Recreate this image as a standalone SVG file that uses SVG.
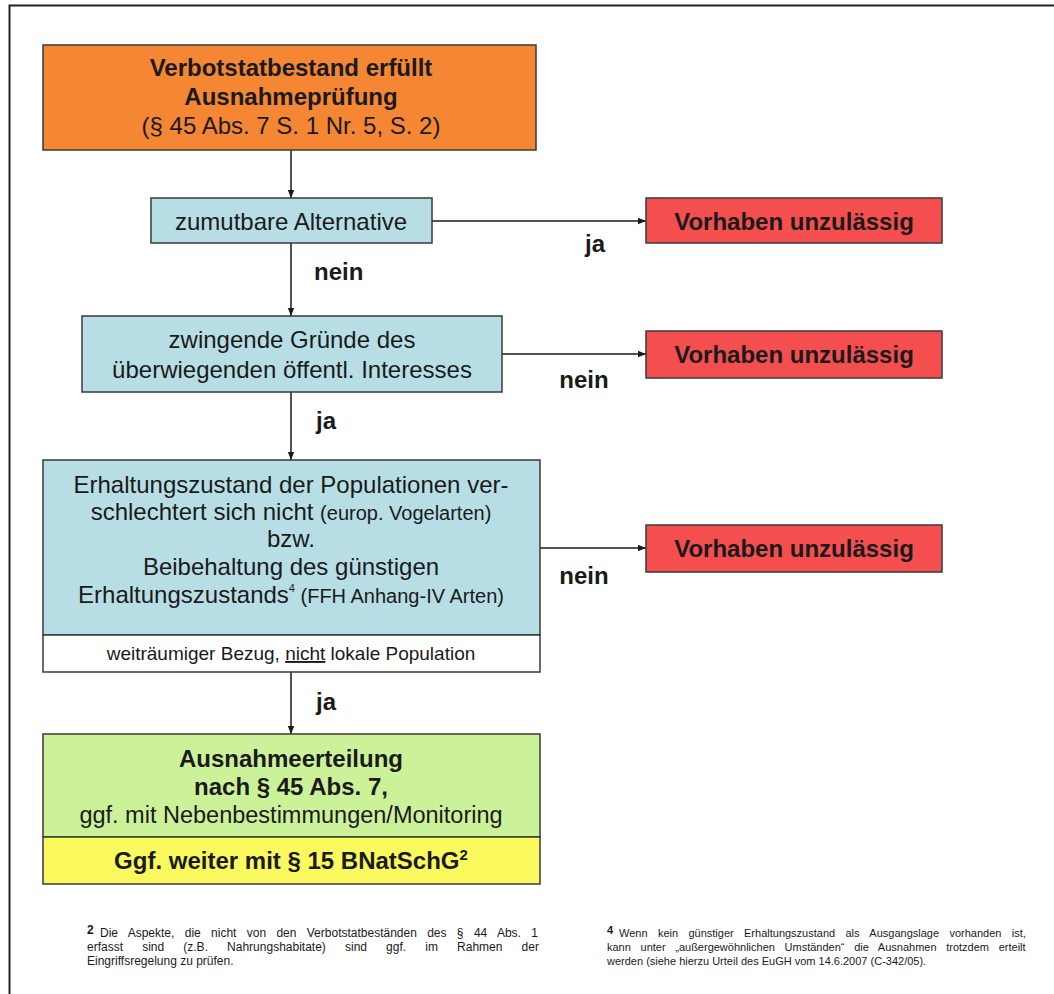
<svg xmlns="http://www.w3.org/2000/svg" width="1054" height="994" viewBox="0 0 1054 994">
<style>
text{font-family:"Liberation Sans",Arial,sans-serif;fill:#1a1a1a}
.box{stroke:#3a3a3a;stroke-width:1.5}
.or{fill:#F58634}.bl{fill:#B8DEE5}.rd{fill:#F44E4E}.gr{fill:#CCF299}.ye{fill:#FAFA5F}.wh{fill:#fff}
.c{text-anchor:middle}
.t{font-size:24px}
.b{font-weight:bold}
.s{font-size:20px}
.lbl{font-size:24px;font-weight:bold}
.fnl{font-size:12px}
.fnr{font-size:11px}
.conn{stroke:#1a1a1a;stroke-width:1.5;fill:none}
</style>
<defs>
<marker id="ah" viewBox="0 0 10 10" refX="10" refY="5" markerWidth="8" markerHeight="8" markerUnits="userSpaceOnUse" orient="auto">
<path d="M0,1 L10,5 L0,9 z" fill="#1a1a1a"/>
</marker>
</defs>
<rect x="0" y="0" width="1054" height="994" fill="#fff"/>
<rect x="9.5" y="5.5" width="1060" height="1000" fill="none" stroke="#222" stroke-width="2"/>

<g id="connectors">
<line class="conn" x1="291" y1="150" x2="291" y2="198" marker-end="url(#ah)"/>
<line class="conn" x1="291" y1="243" x2="291" y2="316" marker-end="url(#ah)"/>
<line class="conn" x1="291" y1="392" x2="291" y2="460" marker-end="url(#ah)"/>
<line class="conn" x1="291" y1="672" x2="291" y2="734" marker-end="url(#ah)"/>
<line class="conn" x1="432" y1="221" x2="646" y2="221" marker-end="url(#ah)"/>
<line class="conn" x1="502" y1="354" x2="646" y2="354" marker-end="url(#ah)"/>
<line class="conn" x1="540" y1="548" x2="646" y2="548" marker-end="url(#ah)"/>
<text class="lbl" x="314" y="280">nein</text>
<text class="lbl" x="316" y="429">ja</text>
<text class="lbl" x="316" y="710">ja</text>
<text class="lbl c" x="595" y="252">ja</text>
<text class="lbl c" x="584" y="388">nein</text>
<text class="lbl c" x="584" y="584">nein</text>
</g>

<g id="start">
<rect class="box or" x="43" y="45" width="493" height="105"/>
<text class="t b c" x="291" y="76">Verbotstatbestand erfüllt</text>
<text class="t b c" x="291" y="105">Ausnahmeprüfung</text>
<text class="t c" x="291" y="134">(§ 45 Abs. 7 S. 1 Nr. 5, S. 2)</text>
</g>

<g id="alternative">
<rect class="box bl" x="151" y="198" width="281" height="45"/>
<text class="t c" x="291" y="230">zumutbare Alternative</text>
</g>

<g id="gruende">
<rect class="box bl" x="82" y="316" width="420" height="76"/>
<text class="t c" x="292" y="348">zwingende Gründe des</text>
<text class="t c" x="292" y="378">überwiegenden öffentl. Interesses</text>
</g>

<g id="erhaltung">
<rect class="box bl" x="43" y="460" width="497" height="175"/>
<text class="t c" x="291" y="493">Erhaltungszustand der Populationen ver-</text>
<text class="t c" x="291" y="520">schlechtert sich nicht <tspan class="s">(europ. Vogelarten)</tspan></text>
<text class="t c" x="291" y="547">bzw.</text>
<text class="t c" x="291" y="575">Beibehaltung des günstigen</text>
<text class="t c" x="291" y="603">Erhaltungszustands<tspan font-size="11px" dy="-11">4</tspan><tspan class="s" dy="11"> (FFH Anhang-IV Arten)</tspan></text>
</g>

<g id="bezug">
<rect class="box wh" x="43" y="635" width="497" height="37"/>
<text class="c" font-size="19px" x="291" y="660">weiträumiger Bezug, <tspan text-decoration="underline">nicht</tspan> lokale Population</text>
</g>

<g id="unzulaessig1">
<rect class="box rd" x="646" y="198" width="296" height="45"/>
<text class="t b c" x="794" y="230">Vorhaben unzulässig</text>
</g>

<g id="unzulaessig2">
<rect class="box rd" x="646" y="331" width="296" height="47"/>
<text class="t b c" x="794" y="363">Vorhaben unzulässig</text>
</g>

<g id="unzulaessig3">
<rect class="box rd" x="646" y="525" width="296" height="47"/>
<text class="t b c" x="794" y="557">Vorhaben unzulässig</text>
</g>

<g id="ausnahme">
<rect class="box gr" x="43" y="734" width="497" height="103"/>
<text class="t b c" x="291" y="767">Ausnahmeerteilung</text>
<text class="t b c" x="291" y="795">nach § 45 Abs. 7,</text>
<text class="c" font-size="23.5px" x="291" y="823">ggf. mit Nebenbestimmungen/Monitoring</text>
</g>

<g id="weiter">
<rect class="box ye" x="43" y="837" width="497" height="47"/>
<text class="t b c" x="291" y="869">Ggf. weiter mit § 15 BNatSchG<tspan font-size="15px" dy="-9">2</tspan></text>
</g>

<g id="footnote2">
<text class="fnl b" x="87" y="934">2</text>
<text class="fnl" x="100" y="937" word-spacing="7">Die Aspekte, die nicht von den Verbotstatbeständen des § 44 Abs. 1</text>
<text class="fnl" x="87" y="951" word-spacing="15.8">erfasst sind (z.B. Nahrungshabitate) sind ggf. im Rahmen der</text>
<text class="fnl" x="87" y="965">Eingriffsregelung zu prüfen.</text>
</g>

<g id="footnote4">
<text class="fnr b" x="607" y="934">4</text>
<text class="fnr" x="619" y="937" word-spacing="7.3">Wenn kein günstiger Erhaltungszustand als Ausgangslage vorhanden ist,</text>
<text class="fnr" x="607" y="951" word-spacing="6.6">kann unter „außergewöhnlichen Umständen“ die Ausnahmen trotzdem erteilt</text>
<text class="fnr" x="607" y="965">werden (siehe hierzu Urteil des EuGH vom 14.6.2007 (C-342/05).</text>
</g>
</svg>
